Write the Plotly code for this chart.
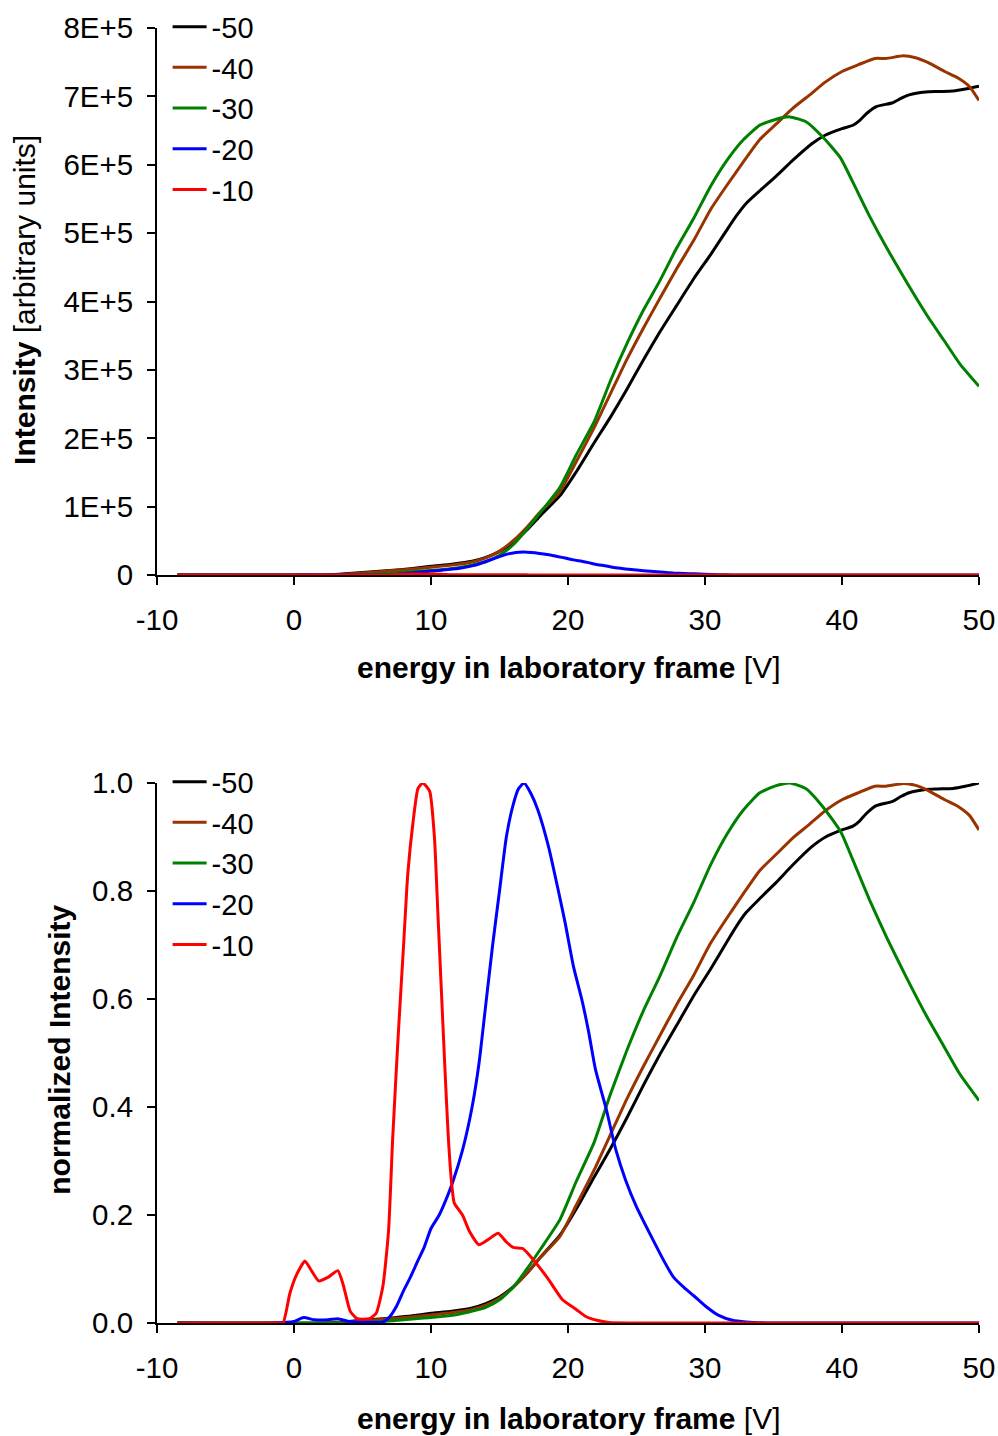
import plotly.graph_objects as go
from plotly.subplots import make_subplots

# bias voltages (legend labels)
series_names = ["-50", "-40", "-30", "-20", "-10"]
series_colors = ["#000000", "#993300", "#008000", "#0000FF", "#FF0000"]

# peak intensity of each series [arbitrary units]
peak_intensity = [7.15e5, 7.6e5, 6.7e5, 3.35e4, 1.5e3]

# normalized spectra, energy in laboratory frame [V]
x_50 = [-8.5, 2.5, 4, 5.5, 7, 8.5, 10, 11.5, 13, 14, 15, 16, 17, 18, 19.4, 20.6, 21.9, 23.1, 24.3, 25.5,
        26.7, 27.9, 29.2, 30.4, 31.6, 32.3, 33.0, 34.0, 35.2, 36.4, 37.8, 38.8, 40.0, 40.8, 41.3, 41.8, 42.5,
        43.7, 44.3, 44.9, 46.1, 47.0, 48.1, 49.0, 50.0]
y_50 = [0, 0, 0.003, 0.006, 0.009, 0.013, 0.018, 0.022, 0.028, 0.036, 0.048, 0.067, 0.092, 0.122, 0.162,
        0.211, 0.27, 0.323, 0.38, 0.44, 0.497, 0.55, 0.607, 0.655, 0.706, 0.735, 0.76, 0.786, 0.816, 0.848,
        0.882, 0.9, 0.913, 0.92, 0.93, 0.944, 0.958, 0.966, 0.975, 0.982, 0.988, 0.989, 0.99, 0.994, 1.0]

x_40 = [-8.5, 2.5, 4, 5.5, 7, 8.5, 10, 11.5, 13, 14, 15, 16, 17, 18, 19.4, 20.6, 21.9, 23.1, 24.3, 25.5,
        26.7, 27.9, 29.2, 30.4, 31.6, 32.8, 34.0, 35.2, 36.4, 37.6, 38.8, 40.0, 41.2, 42.4, 43.2, 44.5,
        45.3, 46.3, 47.5, 48.5, 49.3, 50.0]
y_40 = [0, 0, 0.002, 0.005, 0.008, 0.011, 0.015, 0.019, 0.025, 0.033, 0.046, 0.066, 0.092, 0.122, 0.16,
        0.218, 0.283, 0.349, 0.415, 0.475, 0.532, 0.588, 0.645, 0.703, 0.75, 0.795, 0.838, 0.868, 0.898,
        0.923, 0.949, 0.969, 0.982, 0.994, 0.994, 0.999, 0.996, 0.986, 0.969, 0.956, 0.94, 0.913]

x_30 = [-8.5, 4, 6, 8, 10, 12, 14, 15, 16, 17, 18, 19.4, 20.6, 21.9, 23.1, 24.3, 25.5, 26.7, 27.9, 29.2,
        30.4, 31.6, 32.8, 34.0, 35.2, 36.2, 37.4, 38.6, 39.9, 40.8, 42.0, 43.3, 44.7, 46.2, 47.4, 48.6, 50.0]
y_30 = [0, 0, 0.002, 0.006, 0.01, 0.016, 0.029, 0.043, 0.066, 0.1, 0.137, 0.191, 0.262, 0.334, 0.424,
        0.505, 0.578, 0.642, 0.712, 0.78, 0.848, 0.905, 0.95, 0.982, 0.995, 1.0, 0.989, 0.956, 0.91,
        0.857, 0.784, 0.712, 0.64, 0.567, 0.514, 0.461, 0.412]

x_20 = [-8.5, -1.5, 0, 0.7, 1.5, 2.5, 3.2, 4.0, 6.5, 7.0, 7.5, 8.0, 8.5, 9.0, 9.5, 10.0, 10.6, 11.2, 11.6,
        12.3, 13.0, 13.5, 14.0, 14.5, 15.0, 15.5, 16.0, 16.4, 16.8, 17.3, 17.8, 18.6, 19.3, 19.8, 20.4,
        21.0, 21.5, 22.0, 22.8, 23.5, 24.2, 25.0, 26.0, 27.0, 27.7, 28.5, 29.2, 30.0, 31.0, 32.0, 33.0,
        35.0, 50.0]
y_20 = [0, 0, 0.003, 0.01, 0.006, 0.006, 0.008, 0.003, 0.002, 0.012, 0.032, 0.06, 0.085, 0.113, 0.14,
        0.175, 0.2, 0.235, 0.262, 0.32, 0.4, 0.48, 0.59, 0.7, 0.8, 0.9, 0.96, 0.99, 1.0, 0.98, 0.95, 0.88,
        0.8, 0.74, 0.66, 0.6, 0.54, 0.47, 0.395, 0.32, 0.265, 0.215, 0.164, 0.115, 0.085, 0.065, 0.05,
        0.032, 0.014, 0.005, 0.002, 0, 0]

x_10 = [-8.5, -1.2, -0.8, -0.3, 0.2, 0.8, 1.2, 1.8, 2.5, 3.2, 3.6, 4.1, 4.6, 5.5, 6.0, 6.5, 6.9, 7.2, 7.6,
        8.0, 8.3, 8.7, 9.05, 9.4, 9.9, 10.25, 10.5, 10.75, 11.0, 11.25, 11.5, 11.7, 12.3, 12.8, 13.5, 14.2,
        14.9, 15.5, 16.0, 16.7, 17.2, 17.7, 18.6, 19.6, 20.6, 21.3, 22.1, 23.0, 30.0, 50.0]
y_10 = [0, 0, 0, 0.055, 0.09, 0.115, 0.1, 0.078, 0.085, 0.097, 0.07, 0.022, 0.008, 0.008, 0.018, 0.07,
        0.17, 0.34, 0.53, 0.7, 0.83, 0.93, 0.99, 1.0, 0.985, 0.9, 0.76, 0.62, 0.48, 0.35, 0.26, 0.222,
        0.2, 0.17, 0.145, 0.155, 0.166, 0.15, 0.14, 0.138, 0.125, 0.11, 0.08, 0.043, 0.025, 0.012, 0.005,
        0.001, 0, 0]

xs = [x_50, x_40, x_30, x_20, x_10]
ys = [y_50, y_40, y_30, y_20, y_10]

x_ticks = [-10, 0, 10, 20, 30, 40, 50]
x_ticktext = ["-10", "0", "10", "20", "30", "40", "50"]
top_ticks = [0, 1e5, 2e5, 3e5, 4e5, 5e5, 6e5, 7e5, 8e5]
top_ticktext = ["0", "1E+5", "2E+5", "3E+5", "4E+5", "5E+5", "6E+5", "7E+5", "8E+5"]
bottom_ticks = [0, 0.2, 0.4, 0.6, 0.8, 1.0]

FONT = "Liberation Sans, Arial, sans-serif"
TICK_SIZE = 29.5
TITLE_SIZE = 30
LEGEND_SIZE = 29

fig = make_subplots(rows=2, cols=1)

for name, color, peak, x, y in zip(series_names, series_colors, peak_intensity, xs, ys):
    fig.add_trace(go.Scatter(x=x, y=[v * peak for v in y], mode="lines", name=name,
                             line=dict(color=color, width=3, shape="spline", smoothing=0.5),
                             legend="legend"), row=1, col=1)
    fig.add_trace(go.Scatter(x=x, y=y, mode="lines", name=name,
                             line=dict(color=color, width=3, shape="spline", smoothing=0.5),
                             legend="legend2"), row=2, col=1)

axis_style = dict(showline=True, linecolor="black", linewidth=2, ticks="outside", ticklen=8,
                  tickwidth=2, tickcolor="black", showgrid=False, zeroline=False,
                  tickfont=dict(size=TICK_SIZE, color="black", family=FONT))

fig.update_xaxes(range=[-10, 50], tickvals=x_ticks, ticktext=x_ticktext, ticklabelstandoff=10,
                 **axis_style)
fig.update_yaxes(ticklabelstandoff=8, **axis_style)
fig.update_yaxes(range=[0, 8e5], tickvals=top_ticks, ticktext=top_ticktext, row=1, col=1)
fig.update_yaxes(range=[0, 1.0], tickvals=bottom_ticks, tickformat=".1f", row=2, col=1)

legend_style = dict(xanchor="left", yanchor="top", bgcolor="rgba(0,0,0,0)",
                    font=dict(size=LEGEND_SIZE, family=FONT), itemwidth=34)

fig.update_layout(
    width=998, height=1436,
    margin=dict(l=157, r=19, t=28, b=113, autoexpand=False),
    plot_bgcolor="white", paper_bgcolor="white",
    font=dict(family=FONT, color="black"),
    xaxis=dict(domain=[0, 1]), xaxis2=dict(domain=[0, 1]),
    yaxis=dict(domain=[0.5776, 1.0]), yaxis2=dict(domain=[0.0, 0.417]),
    legend=dict(x=0.0129, y=1.0206, **legend_style),
    legend2=dict(x=0.0129, y=0.4376, **legend_style),
    annotations=[
        dict(text="<b>energy in laboratory frame</b> [V]", xref="paper", yref="paper",
             x=0.5, y=0.5058, xanchor="center", yanchor="middle", showarrow=False,
             font=dict(size=TITLE_SIZE, family=FONT)),
        dict(text="<b>energy in laboratory frame</b> [V]", xref="paper", yref="paper",
             x=0.5, y=-0.0734, xanchor="center", yanchor="middle", showarrow=False,
             font=dict(size=TITLE_SIZE, family=FONT)),
        dict(text="<b>Intensity</b> [arbitrary units]", xref="paper", yref="paper",
             x=-0.1606, y=0.79, xanchor="center", yanchor="middle", textangle=-90, showarrow=False,
             font=dict(size=TITLE_SIZE, family=FONT)),
        dict(text="<b>normalized Intensity</b>", xref="paper", yref="paper",
             x=-0.118, y=0.211, xanchor="center", yanchor="middle", textangle=-90, showarrow=False,
             font=dict(size=TITLE_SIZE, family=FONT)),
    ],
)

fig.write_html("out.html", config={"displayModeBar": False},
               post_script="document.body.style.margin='0';document.body.style.overflow='hidden';")
